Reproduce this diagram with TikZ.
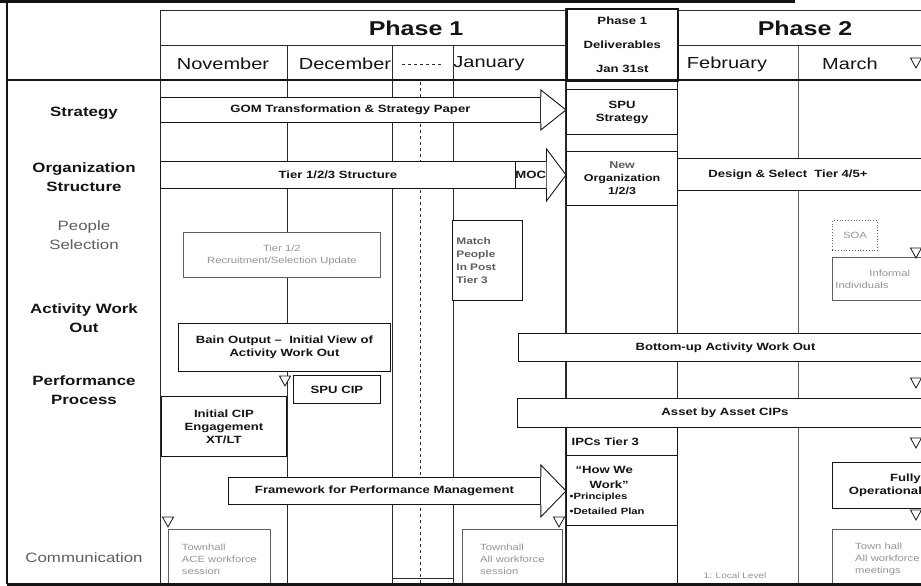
\documentclass[tikz,border=0pt]{standalone}
\usepackage{fontspec}
\setmainfont{Liberation Sans}[FakeStretch=1.25]
\usepackage{tikz}
\usetikzlibrary{positioning}
\definecolor{ink}{HTML}{141414}
\definecolor{rule}{HTML}{2B2B2B}
\definecolor{soft}{HTML}{5E5E5E}
\definecolor{faint}{HTML}{949494}

\begin{document}
\begin{tikzpicture}[x=1pt, y=-1pt,
    every node/.style={text=ink, inner sep=0pt},
    phase/.style={font=\fontsize{20}{24}\selectfont\bfseries},
    month/.style={font=\fontsize{16}{19}\selectfont},
    rowlabel/.style={font=\fontsize{13.5}{19}\selectfont\bfseries, align=center},
    barbox/.style={draw=ink, fill=white, line width=0.9pt, align=center, anchor=north west,
                   font=\fontsize{10.5}{13}\selectfont\bfseries},
    delbox/.style={barbox, line width=1.2pt},
    fadebox/.style={draw=soft, fill=white, line width=0.8pt, anchor=north west, align=left,
                    inner xsep=5pt, text=faint, font=\fontsize{9}{12}\selectfont},
    barhead/.style={draw=ink, fill=white, line width=0.9pt, line join=miter},
    gridline/.style={draw=rule, line width=0.8pt},
    frameline/.style={draw=ink, line width=2pt},
    marker/.style={draw=ink, fill=white, line width=0.8pt},
  ]
  \useasboundingbox (0,0) rectangle (921,586);
  \clip (0,0) rectangle (921,586);
  \fill[white] (0,0) rectangle (921,586);

  % grid: month columns and the deliverables column
  \foreach \gx in {160, 287, 392, 453, 677}
    \draw[gridline] (\gx,45) -- (\gx,583);
  \draw[gridline, draw=soft] (798,45) -- (798,583);
  \draw[gridline, dashed] (420,82) -- (420,583);
  \draw[gridline, dashed] (402,64) -- (442,64);
  \draw[gridline] (392,578) -- (453,578);
  \draw[gridline, line width=1.5pt] (566,8) -- (566,583);

  % header rows
  \draw[gridline] (160,10) -- (566,10);
  \draw[gridline] (677,10) -- (921,10);
  \draw[gridline] (160,10) -- (160,45);
  \draw[gridline] (160,45) -- (566,45);
  \draw[gridline] (677,45) -- (921,45);
  \node[phase] (ph1) at (416,28) {Phase 1};
  \node[phase] (ph2) at (805,28) {Phase 2};
  \foreach \mx/\mname in {223/November, 345/December, 489/January, 727/February, 850/March}
    \node[month] (m-\mname) at (\mx,64) {\mname};
  \node[delbox, minimum width=111, minimum height=72, line width=1.6pt,
        font=\fontsize{10.5}{24}\selectfont\bfseries] (deliv) at (566,8)
        {Phase 1\\Deliverables\\Jan 31st};

  % row labels on the left
  \foreach \ry/\rname in {113/Strategy, 177/{Organization\\Structure},
                          318/{Activity Work\\Out}, 390/{Performance\\Process}}
    \node[rowlabel] (lab-\ry) at (84,\ry) {\rname};
  \node[rowlabel, font=\fontsize{13.5}{19}\selectfont, text=soft] (lab-people) at (84,235)
        {People\\Selection};
  \node[rowlabel, font=\fontsize{13.5}{19}\selectfont, text=soft] (lab-comm) at (84,558)
        {Communication};

  % strategy
  \node[barbox, minimum width=380, minimum height=25] (gom) at (160,97)
        {GOM Transformation \& Strategy Paper};
  \node[delbox, minimum width=111, minimum height=45] (spu) at (566,89) {SPU\\Strategy};
  \draw[barhead] (gom.south east) -- ++(0,7) -- (spu.west |- gom.east)
        -- ([yshift=7pt]gom.north east) -- (gom.north east);

  % organization structure
  \node[barbox, minimum width=355, minimum height=27] (tier) at (160,161) {Tier 1/2/3 Structure};
  \node[barbox, minimum width=25, minimum height=27] (moc) at (515,161) {MOC};
  \node[delbox, minimum width=111, minimum height=54, font=\fontsize{10}{13}\selectfont\bfseries]
        (neworg) at (566,151) {{\color{soft}New}\\Organization\\1/2/3};
  \draw[barhead] (moc.south east) -- ++(0,12) -- (neworg.west |- moc.east)
        -- ([yshift=12pt]moc.north east) -- (moc.north east);
  \node[barbox, minimum height=32, text width=255, align=left, inner xsep=31pt] (design)
        at (677,158) {Design \& Select\ \ Tier 4/5+};

  % people selection
  \node[fadebox, minimum width=197, minimum height=45, align=center] (recruit) at (183,232)
        {Tier 1/2\\Recruitment/Selection Update};
  \node[barbox, minimum width=70, minimum height=80, text width=62, align=left, inner xsep=4pt,
        text=soft, font=\fontsize{9.5}{13}\selectfont\bfseries] (match) at (452,220)
        {Match\\People\\In Post\\Tier 3};
  \node[fadebox, dotted, minimum width=45, minimum height=30] (soa) at (832,220) {SOA};
  \node[fadebox, minimum height=43, text width=100, align=left, inner xsep=3pt] (inform)
        at (832,257) {\hspace*{34pt}Informal\\Individuals};

  % activity work out
  \node[barbox, minimum width=212, minimum height=48] (bain) at (178,323)
        {Bain Output –\ \ Initial View of\\Activity Work Out};
  \node[barbox, minimum width=87, minimum height=28] (spucip) at (293,375) {SPU CIP};
  \node[barbox, minimum width=414, minimum height=28] (bottomup) at (518,333)
        {Bottom-up Activity Work Out};

  % performance process
  \node[barbox, minimum width=125, minimum height=60] (initcip) at (161,396)
        {Initial CIP\\Engagement\\XT/LT};
  \node[barbox, minimum width=415, minimum height=29] (asset) at (517,398) {Asset by Asset CIPs};
  \node[delbox, minimum width=111, minimum height=28, text width=101, align=left, inner xsep=5pt]
        (ipcs) at (566,427) {IPCs Tier 3};
  \node[delbox, minimum width=111, minimum height=70, text width=105, align=left, inner xsep=3pt,
        font=\fontsize{10.5}{15}\selectfont\bfseries] (howwe) at (566,455)
        {\hspace*{6pt}“How We\\\hspace*{20pt}Work”\\[-2pt]
         {\fontsize{9}{13}\selectfont •Principles\\•Detailed Plan}};
  \node[delbox, minimum width=111, minimum height=62] (emptydel) at (566,525) {};
  \node[barbox, minimum width=312, minimum height=27] (framework) at (228,477)
        {Framework for Performance Management};
  \draw[barhead] (framework.south east) -- ++(0,12) -- (howwe.west |- framework.east)
        -- ([yshift=12pt]framework.north east) -- (framework.north east);
  \node[barbox, minimum height=46, text width=106, align=center] (fully) at (832,462)
        {\hspace*{40pt}Fully\\Operational};

  % communication
  \node[fadebox, minimum width=102, minimum height=60] (town1) at (168,529)
        {Townhall\\ACE workforce\\session};
  \node[fadebox, minimum width=100, minimum height=60] (town2) at (462,529)
        {Townhall\\All workforce\\session};
  \node[fadebox, minimum width=110, minimum height=60] (town3) at (832,529)
        {Town hall\\All workforce\\meetings};
  \node[text=faint, font=\fontsize{8}{10}\selectfont] (note) at (735,576) {1: Local Level};

  % milestone markers
  \foreach \tx/\ty in {285/376, 168/517, 559/517, 916/58, 916/248, 916/378, 916/438, 916/510}
    \draw[marker] (\tx-5.5,\ty) -- (\tx+5.5,\ty) -- (\tx,\ty+10) -- cycle;

  % outer frame
  \draw[frameline, line width=3pt] (0,2) -- (795,2);
  \draw[frameline] (7,2) -- (7,584);
  \draw[frameline] (7,80) -- (921,80);
  \draw[frameline, line width=3pt] (7,584) -- (921,584);
\end{tikzpicture}
\end{document}
